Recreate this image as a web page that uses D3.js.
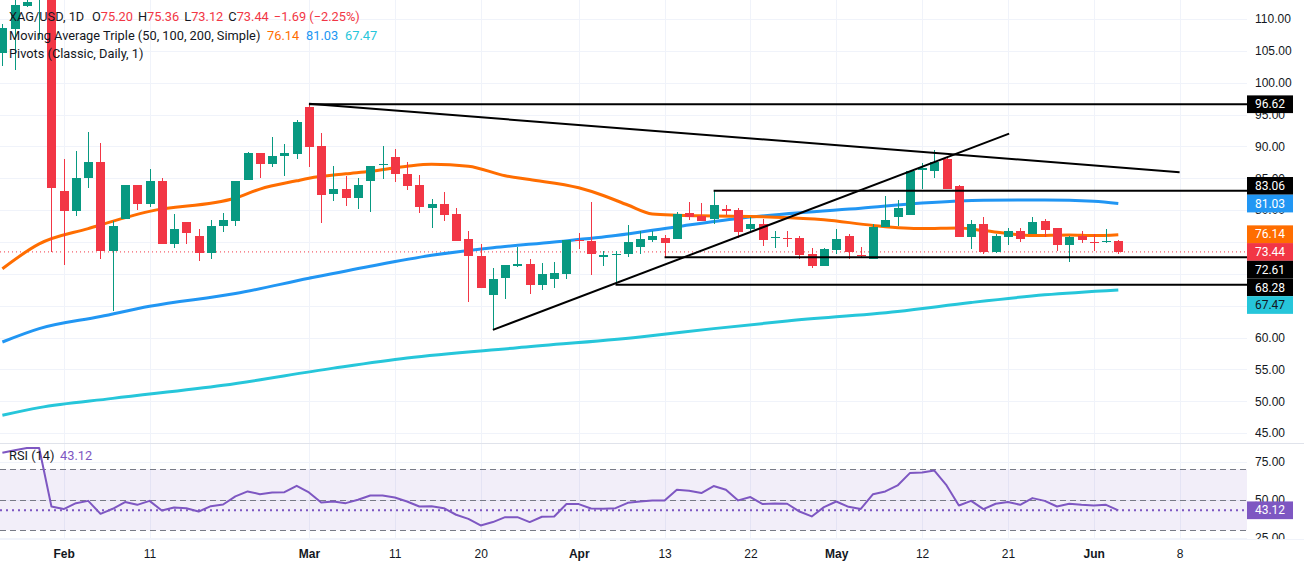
<!DOCTYPE html>
<html>
<head>
<meta charset="utf-8">
<script src="https://cdn.jsdelivr.net/npm/d3@7"></script>
<style>
  html, body { margin: 0; padding: 0; background: #fff; }
  svg { display: block; font-family: Roboto, "Noto Sans", sans-serif; }
</style>
</head>
<body>
<svg id="chart" width="1304" height="568"></svg>
<script>
// Daily XAG/USD bars, Jan 26 .. Jun 3 (bar index 0..91, Feb 2 = 5)
const OPEN = [104.7,108.5,112.0,114.0,115.5,
  83.0,79.9,85.0,87.55,73.6,78.65,83.9,81.0,84.6,74.7,78.1,75.9,73.3,77.45,78.3,84.8,89.0,87.3,88.45,88.85,
  96.2,90.0,82.5,83.3,81.95,84.5,87.1,88.3,85.6,83.9,80.4,80.95,79.4,75.5,72.85,66.7,69.4,71.3,71.5,68.3,69.2,70.0,
  75.3,75.15,72.6,72.95,73.1,74.25,75.35,75.6,75.5,79.5,79.0,78.55,80.2,80.0,77.1,77.9,75.75,75.55,75.55,73.05,71.3,
  73.8,75.95,72.9,72.3,77.3,78.9,79.25,86.3,86.2,87.95,83.85,75.8,77.8,73.5,75.8,76.7,76.25,78.3,77.15,74.5,75.95,
  75.0,75.0,75.20];
const HIGH = [109.2,114.0,114.5,121.5,117.0,
  88.0,89.3,92.3,90.6,78.3,84.0,83.9,86.4,85.0,79.4,78.1,77.1,78.4,79.6,84.6,89.2,89.0,91.4,90.4,94.1,
  96.65,92.15,86.9,85.35,85.0,87.0,90.05,89.55,87.55,85.45,81.8,82.8,80.4,76.7,74.7,70.85,71.4,74.25,72.4,71.75,71.9,75.3,
  76.35,81.2,73.6,73.6,77.7,76.7,76.7,76.1,79.75,81.2,81.1,83.08,80.85,80.3,78.9,78.55,76.8,76.8,75.9,74.0,74.0,
  77.1,76.2,74.15,77.8,82.2,81.55,86.15,87.35,89.45,88.3,83.9,78.45,78.9,76.25,77.15,77.15,78.9,78.6,77.15,76.0,76.75,
  76.3,77.0,75.36];
const LOW = [102.6,102.0,111.9,106.8,73.5,
  71.4,79.1,83.4,72.3,64.2,78.65,80.0,80.5,74.7,74.1,74.7,72.0,72.3,76.6,77.55,84.8,85.0,86.7,85.4,88.1,
  86.7,78.0,81.5,80.6,80.2,79.7,84.9,84.4,83.2,79.5,77.25,78.3,75.2,65.6,67.8,61.2,66.1,71.0,66.8,67.45,67.8,69.2,
  73.85,69.8,71.3,68.3,72.7,73.05,74.95,72.65,75.5,78.4,78.3,77.9,79.2,75.6,76.6,74.4,74.1,74.25,72.3,70.9,71.3,
  73.1,72.3,72.6,72.3,77.3,77.5,79.2,83.25,85.0,83.25,75.8,73.95,73.15,73.3,74.5,75.0,76.25,75.8,73.6,71.9,74.8,
  73.65,74.8,73.12];
const CLOSE = [108.6,112.2,112.7,116.0,83.4,
  79.9,85.0,87.55,73.6,77.55,83.9,81.0,84.6,74.7,77.0,76.45,73.3,77.5,78.4,84.6,89.0,87.3,88.5,89.0,93.8,
  89.95,82.45,83.3,81.95,83.9,87.0,87.3,85.7,83.85,80.5,80.95,79.3,75.2,72.85,67.8,69.2,71.4,71.5,68.2,70.0,70.2,75.3,
  75.1,73.05,72.9,73.15,75.05,75.5,75.95,74.8,79.4,78.95,78.3,80.75,79.8,76.6,77.8,75.35,75.85,75.45,73.0,71.3,73.9,
  75.4,73.5,72.8,77.3,78.4,80.35,86.15,86.65,87.55,83.25,75.8,77.8,73.5,75.95,76.7,75.5,78.1,76.95,74.6,75.8,75.25,
  74.9,75.13,73.44];
const RSI = [80.8,82.5,84.0,84.0,45.6,
  43.9,47.8,49.3,40.8,44.1,48.5,46.7,49.3,43.0,45.0,44.5,42.3,45.8,46.9,52.2,55.5,53.7,54.8,55.0,59.2,
  54.8,48.2,48.9,47.8,50.0,52.8,52.8,51.5,48.9,45.6,45.8,44.5,40.2,37.5,33.2,35.4,38.6,38.6,35.4,38.9,39.1,47.2,
  47.2,44.3,44.1,44.5,48.0,48.9,49.6,49.6,56.6,55.9,54.4,59.0,56.6,49.6,51.8,47.2,47.6,47.4,42.3,39.1,45.2,
  48.9,45.4,44.0,53.7,55.5,59.4,67.5,67.9,69.2,59.4,46.3,49.3,43.9,47.4,48.5,46.7,51.1,49.3,45.6,47.4,46.7,
  46.3,46.7,43.12];

// moving averages: [bar, value]
const MA50 = [[0,70.8],[3,74.7],[7,77.1],[12,79.8],[19,81.9],[21,83.3],[24,84.6],[25,85.0],[28,85.7],[30,86.1],
  [33,86.9],[35,87.2],[38,86.9],[41,85.4],[43,84.8],[47,83.5],[49,82.3],[51,80.8],[53,79.4],[55,79.2],[57,79.1],
  [63,78.9],[67,78.5],[71,77.6],[75,77.1],[78,77.2],[80,76.8],[84,76.0],[87,76.1],[89,76.0],[91,76.14]];
const MA100 = [[0,59.3],[3,61.4],[8,63.3],[12,64.9],[19,66.9],[25,69.3],[30,71.2],[35,72.9],[40,74.1],[45,75.0],
  [50,76.0],[55,77.4],[60,78.7],[65,79.6],[70,80.3],[75,81.1],[80,81.55],[85,81.6],[89,81.4],[91,81.03]];
const MA200 = [[0,47.8],[3,49.0],[9,50.45],[18,52.5],[27,55.2],[33,56.8],[42,58.4],[52,60.1],[58,61.4],[64,62.6],
  [73,64.1],[79,65.5],[85,66.7],[91,67.47]];

// drawn levels: [start bar, price]
const LEVELS = [[25,96.62],[58,83.06],[54,72.61],[50,68.28]];
const TRENDS = [[[25,96.7],[96,85.95]], [[40,61.2],[82.1,92.0]]];

const PRICE_TICKS = d3.range(45, 111, 5);
const RSI_TICKS = [75, 50, 25];
const RSI_BANDS = [70, 50, 30];
const TIME_TICKS = [[5,'Feb'],[12,'11'],[25,'Mar'],[32,'11'],[39,'20'],[47,'Apr'],[54,'13'],[61,'22'],
  [68,'May'],[75,'12'],[82,'21'],[89,'Jun'],[96,'8']];
const MONTHS = ['Feb','Mar','Apr','May','Jun'];

const UP = '#089981', DOWN = '#f23645', TEXT = '#131722';
const ORANGE = '#ff6d00', BLUE = '#2196f3', CYAN = '#26c6da', PURPLE = '#7e57c2';
const GRID = '#f0f3fa';

const W = 1304, H = 568;
const PLOT_R = 1247;           // right edge of panes
const MAIN = { top: 0, bottom: 443 };
const PANE = { top: 444, bottom: 539 };

const svg = d3.select('#chart');
const N = CLOSE.length;
const last = N - 1;

const x = d3.scaleLinear().domain([5, 91]).range([63.7, 1118.3]);
const y = d3.scaleLinear().domain([45, 110]).range([433.1, 19]);
const yR = d3.scaleLinear().domain([30, 70]).range([530.3, 469.3]);

const defs = svg.append('defs');
defs.append('clipPath').attr('id', 'clipMain').append('rect')
  .attr('x', 0).attr('y', MAIN.top).attr('width', PLOT_R).attr('height', MAIN.bottom - MAIN.top);
defs.append('clipPath').attr('id', 'clipRsi').append('rect')
  .attr('x', 0).attr('y', PANE.top).attr('width', PLOT_R).attr('height', PANE.bottom - PANE.top);
// local to the translated axis group
defs.append('clipPath').attr('id', 'clipAxisR').append('rect')
  .attr('x', 0).attr('y', PANE.top).attr('width', W - PLOT_R).attr('height', PANE.bottom - PANE.top);

// grid
const grid = svg.append('g').attr('stroke', GRID).attr('stroke-width', 1).attr('shape-rendering', 'crispEdges');
grid.selectAll('.hg').data(PRICE_TICKS).join('line')
  .attr('x1', 0).attr('x2', PLOT_R).attr('y1', d => Math.round(y(d)) + 0.5).attr('y2', d => Math.round(y(d)) + 0.5);
grid.selectAll('.vg').data(TIME_TICKS).join('line')
  .attr('x1', d => Math.round(x(d[0])) + 0.5).attr('x2', d => Math.round(x(d[0])) + 0.5)
  .attr('y1', MAIN.top).attr('y2', PANE.bottom);
grid.selectAll('.rg').data(RSI_TICKS).join('line')
  .attr('x1', 0).attr('x2', PLOT_R)
  .attr('y1', d => Math.round(yR(d)) + 0.5).attr('y2', d => Math.round(yR(d)) + 0.5);

// pane separators
svg.append('line').attr('x1', 0).attr('x2', W).attr('y1', 443.5).attr('y2', 443.5)
  .attr('stroke', '#e0e3eb').attr('stroke-width', 1);
svg.append('line').attr('x1', 0).attr('x2', W).attr('y1', PANE.bottom + 0.5).attr('y2', PANE.bottom + 0.5)
  .attr('stroke', '#f0f3fa').attr('stroke-width', 1);

// ---------- main pane ----------
const main = svg.append('g').attr('clip-path', 'url(#clipMain)');

// current price dotted line
main.append('line')
  .attr('x1', 0).attr('x2', PLOT_R).attr('y1', y(CLOSE[last])).attr('y2', y(CLOSE[last]))
  .attr('stroke', DOWN).attr('stroke-width', 1).attr('stroke-dasharray', '1,3');

const maLine = d3.line().x(d => x(d[0])).y(d => y(d[1])).curve(d3.curveMonotoneX);
[[MA200, CYAN], [MA100, BLUE], [MA50, ORANGE]].forEach(([data, color]) => {
  main.append('path').attr('d', maLine(data)).attr('fill', 'none')
    .attr('stroke', color).attr('stroke-width', 3).attr('stroke-linejoin', 'round');
});

// candles
const bars = d3.range(N);
const candles = main.append('g').attr('shape-rendering', 'crispEdges');
candles.selectAll('.wick').data(bars).join('line')
  .attr('x1', i => Math.round(x(i)) + 0.5).attr('x2', i => Math.round(x(i)) + 0.5)
  .attr('y1', i => y(HIGH[i])).attr('y2', i => y(LOW[i]))
  .attr('stroke', i => CLOSE[i] >= OPEN[i] ? UP : DOWN).attr('stroke-width', 1);
candles.selectAll('.body').data(bars).join('rect')
  .attr('x', i => Math.round(x(i)) - 4)
  .attr('width', 9)
  .attr('y', i => y(Math.max(OPEN[i], CLOSE[i])))
  .attr('height', i => Math.max(1, Math.abs(y(OPEN[i]) - y(CLOSE[i]))))
  .attr('fill', i => CLOSE[i] >= OPEN[i] ? UP : DOWN);

// drawn levels and trend lines
main.selectAll('.lvl').data(LEVELS).join('line')
  .attr('x1', d => x(d[0])).attr('x2', PLOT_R)
  .attr('y1', d => y(d[1])).attr('y2', d => y(d[1]))
  .attr('stroke', '#000').attr('stroke-width', 2);
main.selectAll('.trend').data(TRENDS).join('line')
  .attr('x1', d => x(d[0][0])).attr('y1', d => y(d[0][1]))
  .attr('x2', d => x(d[1][0])).attr('y2', d => y(d[1][1]))
  .attr('stroke', '#000').attr('stroke-width', 2);

// ---------- RSI pane ----------
const rsi = svg.append('g').attr('clip-path', 'url(#clipRsi)');
rsi.append('rect')
  .attr('x', 0).attr('width', PLOT_R)
  .attr('y', yR(70)).attr('height', yR(30) - yR(70))
  .attr('fill', PURPLE).attr('fill-opacity', 0.1);
rsi.selectAll('.band').data(RSI_BANDS).join('line')
  .attr('x1', 0).attr('x2', PLOT_R)
  .attr('y1', d => Math.round(yR(d)) + 0.5).attr('y2', d => Math.round(yR(d)) + 0.5)
  .attr('stroke', '#787b86').attr('stroke-width', 1).attr('stroke-dasharray', '6,4');
rsi.append('line')
  .attr('x1', 0).attr('x2', PLOT_R).attr('y1', yR(RSI[last])).attr('y2', yR(RSI[last]))
  .attr('stroke', PURPLE).attr('stroke-width', 2).attr('stroke-dasharray', '2,4');
rsi.append('path')
  .attr('d', d3.line().x(i => x(i)).y(i => yR(RSI[i]))(bars))
  .attr('fill', 'none').attr('stroke', PURPLE).attr('stroke-width', 2).attr('stroke-linejoin', 'round');

// ---------- price-scale labels (computed first so hidden ticks can be skipped) ----------
const LABEL_H = 17.7;
const labels = [
  { v: LEVELS[0][1], bg: '#000', fg: '#fff' },
  { v: LEVELS[1][1], bg: '#000', fg: '#fff' },
  { v: MA100[MA100.length - 1][1], bg: BLUE, fg: '#fff' },
  { v: MA50[MA50.length - 1][1], bg: ORANGE, fg: '#fff' },
  { v: CLOSE[last], bg: DOWN, fg: '#fff', anchor: true },
  { v: LEVELS[2][1], bg: '#000', fg: '#fff' },
  { v: LEVELS[3][1], bg: '#000', fg: '#fff' },
  { v: MA200[MA200.length - 1][1], bg: CYAN, fg: TEXT },
].map(d => ({ ...d, yy: y(d.v) })).sort((a, b) => a.yy - b.yy);
const ai = labels.findIndex(d => d.anchor);
for (let i = ai - 1; i >= 0; i--) labels[i].yy = Math.min(labels[i].yy, labels[i + 1].yy - LABEL_H);
for (let i = ai + 1; i < labels.length; i++) labels[i].yy = Math.max(labels[i].yy, labels[i - 1].yy + LABEL_H);

// a tick label is dropped only when the tags cover it completely
function covered(cy) {
  const top = cy - 4, bot = cy + 4;
  const spans = labels.map(d => [d.yy - LABEL_H / 2, d.yy + LABEL_H / 2]);
  let pos = top;
  spans.sort((a, b) => a[0] - b[0]).forEach(([a, b]) => { if (a <= pos + 0.5 && b > pos) pos = b; });
  return pos >= bot;
}

// ---------- axes ----------
const priceAxis = svg.append('g').attr('transform', `translate(${PLOT_R},0)`)
  .call(d3.axisRight(y).tickValues(PRICE_TICKS.filter(v => !covered(y(v))))
    .tickFormat(d3.format('.2f')).tickSize(0).tickPadding(8));
const rsiAxis = svg.append('g').attr('transform', `translate(${PLOT_R},0)`)
  .attr('clip-path', 'url(#clipAxisR)')
  .call(d3.axisRight(yR).tickValues(RSI_TICKS).tickFormat(d3.format('.2f')).tickSize(0).tickPadding(8));
[priceAxis, rsiAxis].forEach(a => {
  a.select('.domain').remove();
  a.selectAll('text').attr('font-size', 12).attr('fill', TEXT).attr('font-family', 'inherit');
});

const timeAxis = svg.append('g').attr('transform', `translate(0,${PANE.bottom})`)
  .call(d3.axisBottom(x).tickValues(TIME_TICKS.map(d => d[0]))
    .tickFormat(v => TIME_TICKS.find(d => d[0] === v)[1]).tickSize(0).tickPadding(10));
timeAxis.select('.domain').remove();
timeAxis.selectAll('text').attr('font-size', 12).attr('fill', TEXT).attr('font-family', 'inherit')
  .attr('font-weight', function () { return MONTHS.includes(this.textContent) ? 600 : 400; });

function tag(g, d) {
  g.append('rect').attr('x', PLOT_R).attr('width', 46)
    .attr('y', d.yy - LABEL_H / 2).attr('height', LABEL_H).attr('fill', d.bg);
  g.append('text').attr('x', PLOT_R + 23).attr('y', d.yy).attr('dy', '0.35em')
    .attr('text-anchor', 'middle').attr('font-size', 12).attr('fill', d.fg)
    .text(d3.format('.2f')(d.v));
}
const tags = svg.append('g');
labels.forEach(d => tag(tags, d));
tag(tags, { v: RSI[last], yy: yR(RSI[last]), bg: PURPLE, fg: '#fff' });

// ---------- legends ----------
const fmt = d3.format('.2f');
const minus = s => s.replace('-', '\u2212');
const chg = CLOSE[last] - CLOSE[last - 1];
const leg = svg.append('g').attr('font-size', 12.8).attr('fill', TEXT);

const l1 = leg.append('text').attr('y', 21);
l1.append('tspan').attr('x', 9).text('XAG/USD, 1D');
[['O', OPEN[last]], ['H', HIGH[last]], ['L', LOW[last]], ['C', CLOSE[last]]].forEach(([k, v], i) => {
  const t = l1.append('tspan').text(k);
  if (i === 0) t.attr('x', 92); else t.attr('dx', 5);
  l1.append('tspan').attr('fill', DOWN).text(fmt(v));
});
l1.append('tspan').attr('dx', 5).attr('fill', DOWN)
  .text(`${fmt(chg)} (${minus(d3.format('.2%')(chg / CLOSE[last - 1]))})`);

const l2 = leg.append('text').attr('y', 39.5);
l2.append('tspan').attr('x', 9).text('Moving Average Triple (50, 100, 200, Simple)');
const MA_X = [267, 306, 345];
[[MA50, ORANGE], [MA100, BLUE], [MA200, CYAN]].forEach(([m, c], i) => {
  l2.append('tspan').attr('x', MA_X[i]).attr('fill', c).text(fmt(m[m.length - 1][1]));
});
leg.append('text').attr('x', 9).attr('y', 57.5).text('Pivots (Classic, Daily, 1)');

const l4 = leg.append('text').attr('y', 459.5);
l4.append('tspan').attr('x', 9).text('RSI (14)');
l4.append('tspan').attr('x', 60).attr('fill', PURPLE).text(fmt(RSI[last]));
</script>
</body>
</html>
